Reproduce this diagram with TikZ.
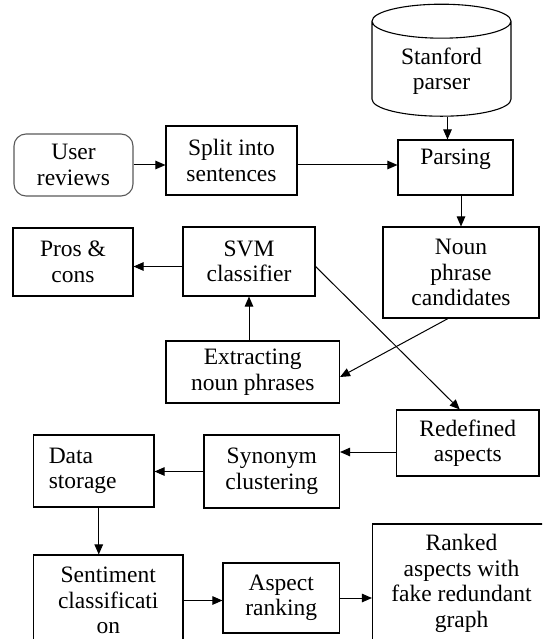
\documentclass[tikz,border=0pt]{standalone}
\usepackage{fontspec}
\setmainfont{Liberation Serif}
\usetikzlibrary{arrows.meta,shapes.geometric}

\begin{document}
\begin{tikzpicture}[x=1pt,y=-1pt,>={Triangle[length=10pt,width=8.5pt]},
  font=\fontsize{23.5}{25.5}\selectfont,
  box/.style={draw,line width=1.1pt,align=center,inner sep=2pt},
  arr/.style={->,line width=1pt}]
\useasboundingbox (0,0) rectangle (542,639);
\clip (0,0) rectangle (542,639);
\node[box,cylinder,shape border rotate=90,aspect=0.4,minimum width=139pt,minimum height=112pt] (stanford) at (441.5,71) {Stanford\\parser};
\node[box,rounded corners=12pt,draw=black!65,minimum width=119pt,minimum height=62pt] (user) at (73.5,165) {User\\reviews};
\node[box,minimum width=131pt,minimum height=69pt] (split) at (231.5,160.5) {Split into\\sentences};
\node[box,minimum width=115pt,minimum height=55pt,text depth=21pt] (parse) at (455.5,167.5) {Parsing};
\node[box,minimum width=120pt,minimum height=68pt] (pros) at (73,262) {Pros \&\\cons};
\node[box,minimum width=132pt,minimum height=69pt] (svm) at (249,261.5) {SVM\\classifier};
\node[box,minimum width=156pt,minimum height=91pt] (noun) at (461,272.5) {Noun\\phrase\\candidates};
\node[box,minimum width=173.5pt,minimum height=62pt] (extract) at (252.75,372) {Extracting\\noun phrases};
\node[box,minimum width=142.5pt,minimum height=66pt] (redef) at (467.75,443) {Redefined\\aspects};
\node[box,minimum width=135.5pt,minimum height=73pt] (syn) at (271.75,471.5) {Synonym\\clustering};
\node[box,minimum width=120.5pt,minimum height=72pt,text width=90pt,align=left] (data) at (93.75,471) {Data\\storage};
\node[box,minimum width=149.5pt,minimum height=91pt] (senti) at (108.25,600.5) {Sentiment\\classificati\\on};
\node[box,minimum width=116.5pt,minimum height=70pt] (aspect) at (281.25,598) {Aspect\\ranking};
\node[box,minimum width=178pt,minimum height=119pt] (ranked) at (461.5,583.5) {Ranked\\aspects with\\fake redundant\\graph};
\draw[arr] (user.east) -- (user.east -| split.west);
\draw[arr] (split.east |- user.east) -- (parse.west |- user.east);
\draw[arr] ([xshift=6pt]stanford.south) -- ([xshift=6pt]stanford.south |- parse.north);
\draw[arr] (parse.south -| noun.north) -- (noun.north);
\draw[arr] ([yshift=-5pt]svm.west) -- ([yshift=-5pt]svm.west -| pros.east);
\draw[arr] (extract.north -| svm.south) -- (svm.south);
\draw[arr] ([xshift=-13pt]noun.south) -- ([yshift=-5pt]extract.east);
\draw[arr] ([yshift=-5pt]svm.east) -- ([xshift=-8pt]redef.north);
\draw[arr] ([yshift=-9pt]redef.west) -- ([yshift=-9pt]redef.west -| syn.east);
\draw[arr] (syn.west) -- (syn.west -| data.east);
\draw[arr] ([xshift=5pt]data.south) -- ([xshift=5pt]data.south |- senti.north);
\draw[arr] (senti.east) -- (senti.east -| aspect.west);
\draw[arr] (aspect.east) -- (aspect.east -| ranked.west);
\end{tikzpicture}
\end{document}
